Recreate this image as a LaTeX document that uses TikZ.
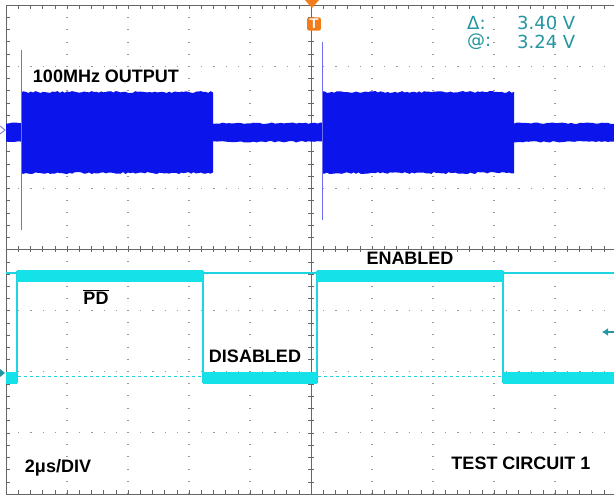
\documentclass[tikz,border=0pt]{standalone}
\usepackage{fontspec}
\setmainfont{Liberation Sans}
\newfontfamily\scopefont{DejaVu Sans}
\usetikzlibrary{shapes, arrows.meta}

\begin{document}
\begin{tikzpicture}[x=1pt, y=-1pt, every node/.style={font=\bfseries\fontsize{18}{18}\selectfont}]
  \definecolor{chone}{RGB}{10,20,235} \definecolor{spike}{RGB}{110,110,240}
  \definecolor{chtwo}{RGB}{20,225,232} \definecolor{cursor}{RGB}{30,212,224}
  \definecolor{readout}{RGB}{35,150,162} \definecolor{trigcol}{RGB}{240,125,25}
  \colorlet{gridcol}{black!40} \colorlet{axiscol}{black!60}
  \tikzstyle{gridline}=[gridcol, line width=1.1pt, dash pattern=on 1.1pt off 11.1pt]
  \tikzstyle{label}=[fill=white, inner sep=1.5pt, text=black]
  \tikzstyle{scope}=[font=\scopefont\fontsize{18}{18}\selectfont, text=readout, anchor=west, inner sep=0pt]
  \useasboundingbox (0,0) rectangle (614,497);
  \clip (0,0) rectangle (614,497);
  \fill[white] (0,0) rectangle (614,497);
  \pgfmathsetseed{7}

  % graticule
  \foreach \k in {1,2,3,4,6,7,8,9} {
    \draw[gridline] (6+61*\k,5) -- (6+61*\k,494);
  }
  \foreach \k in {1,2,3,5,6,7} {
    \draw[gridline] (6,5+61.125*\k) -- (616,5+61.125*\k);
  }
  \draw[axiscol, thick] (6,5) rectangle (616,494);
  \draw[axiscol] (311,5) -- (311,494);
  \draw[axiscol] (6,249.5) -- (616,249.5);
  \foreach \i in {1,...,49} {
    \draw[axiscol] (6+12.2*\i,5) -- ++(0,4);
    \draw[axiscol] (6+12.2*\i,494) -- ++(0,-4);
    \draw[axiscol] (6+12.2*\i,246.5) -- ++(0,6);
  }
  \foreach \i in {1,...,39} {
    \draw[axiscol] (6,5+12.225*\i) -- ++(4,0);
    \draw[axiscol] (308,5+12.225*\i) -- ++(6,0);
  }

  % channel 1
  \fill[chone] (6,124) -- plot[domain=6:614, samples=200] (\x,{124-1.5*rnd})
    -- (614,141) -- plot[domain=614:6, samples=200] (\x,{141+1.5*rnd}) -- cycle;
  \foreach \a/\b in {21/213, 322/514} {
    \fill[chone] (\a,93) -- plot[domain=\a:\b, samples=80] (\x,{93-2*rnd})
      -- (\b,172) -- plot[domain=\b:\a, samples=80] (\x,{172+2*rnd}) -- cycle;
  }
  \draw[spike] (21,50) -- (21,230);
  \draw[spike] (322,42) -- (322,220);
  \draw[spike!70!gray, line width=0.8pt] (0,126) -- (5,130) -- (0,134);

  % channel 2
  \draw[cursor, line width=1.2pt] (6,273) -- (614,273);
  \draw[cursor, line width=1pt, dashed] (6,376.5) -- (614,376.5);
  \draw[cursor, line width=1.4pt] (17,383) -- (17,271) (203,271) -- (203,383)
    (317,383) -- (317,271) (503,271) -- (503,383);
  \foreach \a/\b in {17/203, 317/503} {
    \fill[chtwo] (\a,270) rectangle (\b,282);
  }
  \foreach \a/\b in {6/17, 203/317, 503/614} {
    \fill[chtwo] (\a,372) rectangle (\b,384);
  }
  \fill[readout] (0,369) -- (5,373) -- (0,377) -- cycle;
  \draw[readout, line width=1.6pt, -{Latex[length=6pt, width=8pt]}] (614,332) -- (602,332);

  % trigger
  \fill[trigcol] (305,0) -- (319,0) -- (312,8) -- cycle;
  \node[fill=trigcol, rounded corners=2pt, inner sep=1.8pt, text=white,
    font=\sffamily\bfseries\fontsize{14}{14}\selectfont] (trig) at (314,24) {T};

  % texts
  \node[label] (out) at (106,76) {100MHz OUTPUT};
  \node[label] (enabled) at (410,258) {ENABLED};
  \node[label] (pd) at (96,297) {$\overline{\mbox{PD}}$};
  \node[label] (disabled) at (255,356) {DISABLED};
  \node[label] (timebase) at (58,468) {2μs/DIV};
  \node[label] (testcircuit) at (521,463) {TEST CIRCUIT 1};
  \node[scope] (delta) at (467,23) {Δ:};
  \node[scope] (deltaval) at (517,23) {3.40 V};
  \node[scope] (at) at (467,42) {@:};
  \node[scope] (atval) at (517,42) {3.24 V};
\end{tikzpicture}
\end{document}
